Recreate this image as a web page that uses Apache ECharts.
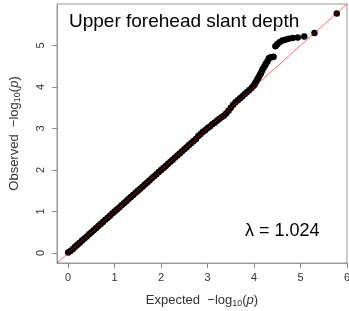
<!DOCTYPE html>
<html>
<head>
<meta charset="utf-8">
<script src="https://cdn.jsdelivr.net/npm/echarts@6/dist/echarts.min.js"></script>
<style>
  html, body { margin: 0; padding: 0; background: #fff; }
  #qqChart { width: 349px; height: 311px; }
</style>
</head>
<body>
<div id="qqChart"></div>
<script>
// expected vs observed -log10(p), dense part along the diagonal
var expectedDense = [0.00,0.05,0.10,0.15,0.20,0.25,0.30,0.35,0.40,0.45,0.50,0.55,0.60,0.65,0.70,0.75,0.80,0.85,0.90,0.95,
  1.00,1.05,1.10,1.15,1.20,1.25,1.30,1.35,1.40,1.45,1.50,1.55,1.60,1.65,1.70,1.75,1.80,1.85,1.90,1.95,
  2.00,2.05,2.10,2.15,2.20,2.25,2.30,2.35,2.40,2.45,2.50,2.55,2.60,2.65,2.70,2.75,2.80,2.85,2.90,2.95,
  3.00,3.05,3.10,3.15,3.20,3.25,3.30,3.35,3.40,3.45,3.50,3.55,3.60,3.65,3.70,3.75,3.80,3.85,3.90,3.95];
var observedDense = [0.01,0.05,0.10,0.15,0.20,0.25,0.30,0.35,0.40,0.45,0.50,0.55,0.60,0.65,0.70,0.75,0.80,0.85,0.90,0.95,
  1.00,1.05,1.10,1.15,1.20,1.25,1.30,1.35,1.40,1.45,1.50,1.55,1.60,1.65,1.70,1.75,1.80,1.85,1.90,1.95,
  2.00,2.05,2.10,2.15,2.20,2.25,2.30,2.35,2.40,2.45,2.50,2.55,2.60,2.65,2.70,2.75,2.82,2.87,2.92,2.96,
  3.01,3.05,3.10,3.14,3.19,3.23,3.27,3.31,3.36,3.43,3.50,3.57,3.63,3.68,3.73,3.78,3.83,3.88,3.93,3.98];
// upper tail, individual points
var expectedTail = [3.99,4.01,4.03,4.05,4.07,4.09,4.11,4.13,4.15,4.17,4.19,4.22,4.24,4.26,4.29,
  4.32,4.35,4.38,4.42,4.46,4.50,4.55,4.61,4.67,4.74,4.83,4.94,5.08,5.30,5.78];
var observedTail = [4.03,4.06,4.10,4.14,4.18,4.22,4.26,4.30,4.34,4.39,4.44,4.49,4.53,4.57,4.62,
  4.69,4.71,4.72,4.73,4.98,5.03,5.08,5.12,5.14,5.16,5.18,5.19,5.22,5.30,5.77];
var xTicks = [0, 1, 2, 3, 4, 5, 6];
var yTicks = [0, 1, 2, 3, 4, 5];
var axisRange = [-0.24, 6];
var lambdaText = 'λ = 1.024';
var titleText = 'Upper forehead slant depth';

var points = [];
expectedDense.forEach(function (e, i) { points.push([e, observedDense[i]]); });
expectedTail.forEach(function (e, i) { points.push([e, observedTail[i]]); });

var font = 'Liberation Sans, Arial, sans-serif';
var nameRich = {
  t: { fontSize: 13, color: '#333', fontFamily: font },
  s: { fontSize: 9, color: '#333', fontFamily: font, padding: [6, 0, 0, 0] },
  i: { fontSize: 13, color: '#333', fontFamily: font, fontStyle: 'italic' }
};

var chart = echarts.init(document.getElementById('qqChart'));
var option = {
  animation: false,
  grid: {
    left: 57, right: 2, top: 4, bottom: 48,
    show: true, borderColor: '#999', borderWidth: 1,
    containLabel: false, outerBoundsMode: 'none'
  },
  xAxis: {
    type: 'value',
    min: axisRange[0], max: axisRange[1],
    axisLine: { show: true, onZero: false, lineStyle: { color: '#999' } },
    axisTick: { show: true, customValues: xTicks, length: 5, lineStyle: { color: '#888' } },
    axisLabel: { customValues: xTicks, margin: 9, fontSize: 11, color: '#333', fontFamily: font },
    splitLine: { show: false },
    name: '{t|Expected  −log}{s|10}{t|(}{i|p}{t|)}',
    nameLocation: 'middle',
    nameGap: 30,
    nameTextStyle: { rich: nameRich }
  },
  yAxis: {
    type: 'value',
    min: axisRange[0], max: axisRange[1],
    axisLine: { show: true, onZero: false, lineStyle: { color: '#999' } },
    axisTick: { show: true, customValues: yTicks, length: 5, lineStyle: { color: '#888' } },
    axisLabel: { customValues: yTicks, rotate: 90, margin: 11, fontSize: 11, color: '#333', fontFamily: font },
    splitLine: { show: false },
    name: '{t|Observed  −log}{s|10}{t|(}{i|p}{t|)}',
    nameLocation: 'middle',
    nameRotate: 90,
    nameGap: 35,
    nameTextStyle: { rich: nameRich }
  },
  graphic: [
    { type: 'text', left: 69, top: 12, style: { text: titleText, fontSize: 19, fontFamily: font, fill: '#000' } },
    { type: 'text', left: 245, top: 222, style: { text: lambdaText, fontSize: 18, fontFamily: font, fill: '#000' } }
  ],
  series: [
    {
      type: 'scatter',
      data: points,
      symbolSize: 6.5,
      itemStyle: { color: '#000', opacity: 1 },
      z: 2
    },
    {
      type: 'line',
      data: [[axisRange[0], axisRange[0]], [axisRange[1], axisRange[1]]],
      symbol: 'none',
      lineStyle: { color: 'red', width: 1, opacity: 0.6 },
      z: 3
    }
  ]
};
chart.setOption(option);
window.addEventListener('resize', function () {
  chart.resize();
});
</script>
</body>
</html>
